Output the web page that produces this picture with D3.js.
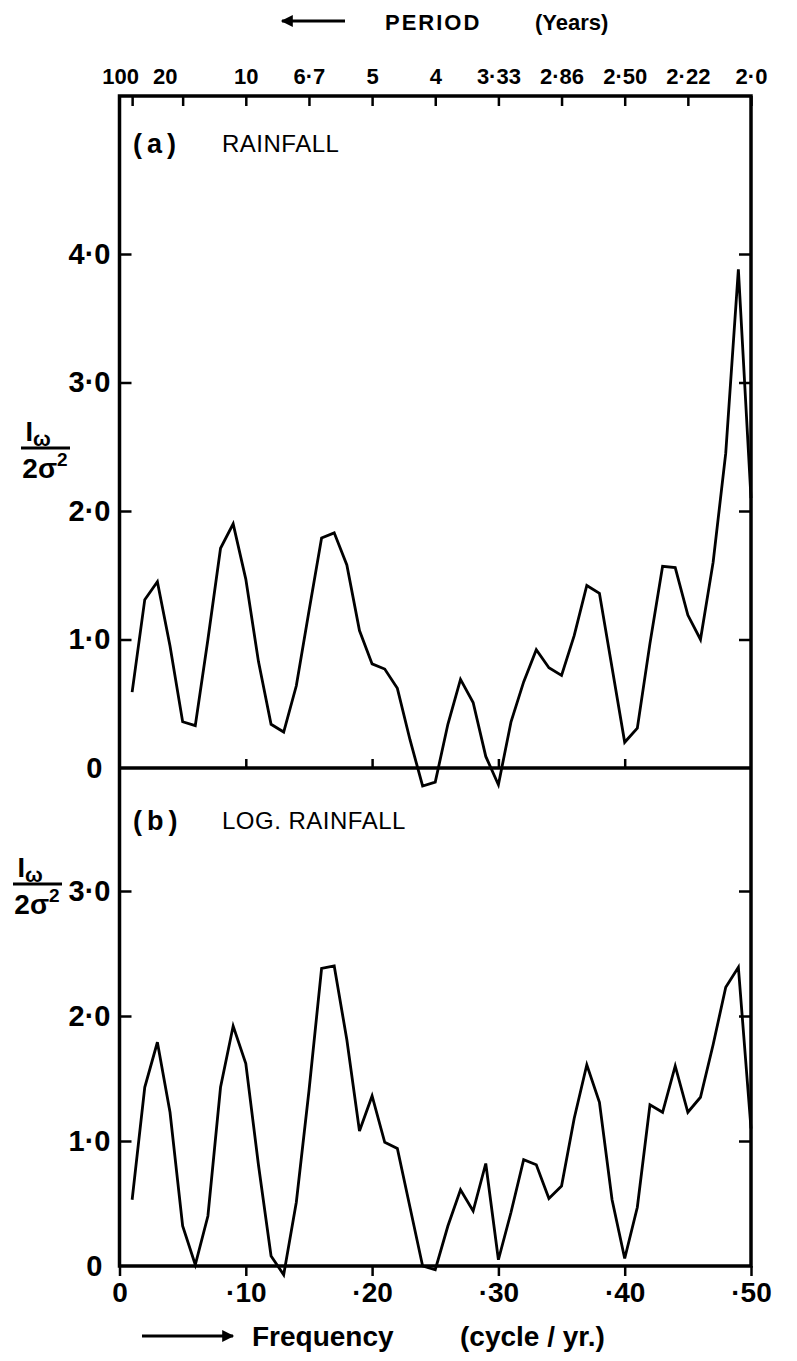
<!DOCTYPE html>
<html>
<head>
<meta charset="utf-8">
<script src="https://cdn.jsdelivr.net/npm/d3@7"></script>
<style>
  body { margin: 0; background: #fff; }
  svg { display: block; }
  text { font-family: "Liberation Sans", Arial, sans-serif; fill: #000; }
</style>
</head>
<body>
<svg id="chart"></svg>
<script>
const width = 797, height = 1361;

// Fourier frequencies of a 100-year series (cycle / yr)
const freq = d3.range(1, 51).map(k => k / 100);

// (a) rainfall, I_w / 2 sigma^2
const rainfall = [
  0.59, 1.31, 1.45, 0.95, 0.36, 0.33, 1.00, 1.71, 1.90, 1.47,
  0.83, 0.34, 0.28, 0.64, 1.22, 1.79, 1.83, 1.58, 1.07, 0.81,
  0.77, 0.62, 0.22, -0.14, -0.11, 0.34, 0.69, 0.51, 0.09, -0.13,
  0.36, 0.67, 0.92, 0.78, 0.72, 1.03, 1.42, 1.36, 0.78, 0.20,
  0.31, 0.97, 1.57, 1.56, 1.19, 1.00, 1.60, 2.45, 3.88, 2.10
];

// (b) log rainfall
const logRainfall = [
  0.53, 1.43, 1.79, 1.23, 0.32, 0.01, 0.40, 1.43, 1.92, 1.62,
  0.81, 0.08, -0.07, 0.51, 1.40, 2.38, 2.40, 1.81, 1.08, 1.36,
  0.99, 0.94, 0.47, 0.00, -0.03, 0.32, 0.61, 0.44, 0.82, 0.05,
  0.43, 0.85, 0.81, 0.54, 0.64, 1.18, 1.61, 1.31, 0.53, 0.06,
  0.47, 1.29, 1.23, 1.60, 1.23, 1.35, 1.77, 2.23, 2.39, 1.10
];

const freqTicks = [0, 0.1, 0.2, 0.3, 0.4, 0.5];
const freqLabels = ["0", "·10", "·20", "·30", "·40", "·50"];
const periodTicks = [0.01, 0.05, 0.10, 0.15, 0.20, 0.25, 0.30, 0.35, 0.40, 0.45, 0.50];
const periodLabels = ["100", "20", "10", "6·7", "5", "4", "3·33", "2·86", "2·50", "2·22", "2·0"];
const rainTicks = [0, 1, 2, 3, 4];
const rainLabels = ["0", "1·0", "2·0", "3·0", "4·0"];
const logTicks = [0, 1, 2, 3];
const logLabels = ["0", "1·0", "2·0", "3·0"];

const xLeft = 119.5, xRight = 751;
const yTop = 96, yMid = 768, yBottom = 1266;

const svg = d3.select("#chart")
    .attr("width", width)
    .attr("height", height);

svg.append("rect").attr("width", width).attr("height", height).attr("fill", "#fff");

const x = d3.scaleLinear().domain([0, 0.5]).range([xLeft, xRight]);
const yA = d3.scaleLinear().domain([0, 4]).range([yMid, 254]);
const yB = d3.scaleLinear().domain([0, 3]).range([yBottom, 891]);

// frame
svg.append("rect")
    .attr("x", xLeft).attr("y", yTop)
    .attr("width", xRight - xLeft).attr("height", yBottom - yTop)
    .attr("fill", "none").attr("stroke", "#000").attr("stroke-width", 3.5);
svg.append("line")
    .attr("x1", xLeft).attr("x2", xRight)
    .attr("y1", yMid).attr("y2", yMid)
    .attr("stroke", "#000").attr("stroke-width", 3.5);

function styleAxis(g, size) {
    g.select(".domain").remove();
    g.selectAll(".tick line").attr("stroke", "#000").attr("stroke-width", 2.5);
    g.selectAll(".tick text").attr("font-size", size).attr("font-weight", "bold");
}

// period axis on top, ticks pointing in
const topAxis = svg.append("g")
    .attr("transform", `translate(0,${yTop})`)
    .call(d3.axisTop(x).tickValues(periodTicks)
        .tickFormat((d, i) => periodLabels[i])
        .tickSize(-10).tickSizeOuter(0).tickPadding(12))
    .call(g => styleAxis(g, 22));
topAxis.selectAll(".tick text").attr("dx", (d, i) => i === 0 ? -12 : i === 1 ? -18 : 0);

// small ticks on the divider (panel a zero line)
svg.append("g")
    .attr("transform", `translate(0,${yMid})`)
    .call(d3.axisTop(x).tickValues(freqTicks.slice(1, 5)).tickSize(9).tickSizeOuter(0).tickFormat(""))
    .call(g => styleAxis(g, 0));

// frequency axis at bottom
svg.append("g")
    .attr("transform", `translate(0,${yBottom})`)
    .call(d3.axisBottom(x).tickValues(freqTicks)
        .tickFormat((d, i) => freqLabels[i])
        .tickSize(10).tickSizeOuter(0).tickPadding(6))
    .call(g => styleAxis(g, 28));

// y axes, left labels, inward ticks on both sides
function yAxes(scale, ticks, labels) {
    const gl = svg.append("g")
        .attr("transform", `translate(${xLeft},0)`)
        .call(d3.axisLeft(scale).tickValues(ticks)
            .tickFormat((d, i) => labels[i])
            .tickSize(-12).tickSizeOuter(0).tickPadding(9))
        .call(g => styleAxis(g, 29));
    gl.selectAll(".tick text").attr("dx", d => d === 0 ? -8 : 0);
    gl.selectAll(".tick").filter(d => d === 0).select("line").remove();
    svg.append("g")
        .attr("transform", `translate(${xRight},0)`)
        .call(d3.axisRight(scale).tickValues(ticks.slice(1))
            .tickSize(-12).tickSizeOuter(0).tickFormat(""))
        .call(g => styleAxis(g, 0));
}
yAxes(yA, rainTicks, rainLabels);
yAxes(yB, logTicks, logLabels);

// curves
const lineA = d3.line().x((d, i) => x(freq[i])).y(d => yA(d));
const lineB = d3.line().x((d, i) => x(freq[i])).y(d => yB(d));
svg.append("path").datum(rainfall)
    .attr("d", lineA).attr("fill", "none")
    .attr("stroke", "#000").attr("stroke-width", 2.8).attr("stroke-linejoin", "miter");
svg.append("path").datum(logRainfall)
    .attr("d", lineB).attr("fill", "none")
    .attr("stroke", "#000").attr("stroke-width", 2.8).attr("stroke-linejoin", "miter");

// y label: I_w / 2 sigma^2
function fraction(cx, cy) {
    const g = svg.append("g").attr("transform", `translate(${cx},${cy})`);
    const num = g.append("text").attr("x", -8).attr("y", -7)
        .attr("text-anchor", "middle").attr("font-size", 27)
        .attr("font-family", "Liberation Serif, serif").attr("font-weight", "bold");
    num.append("tspan").text("I");
    num.append("tspan").attr("font-size", 21).attr("dy", 5)
        .attr("font-family", "Liberation Sans, sans-serif").text("ω");
    g.append("line").attr("x1", -25).attr("x2", 24).attr("y1", 0).attr("y2", 0)
        .attr("stroke", "#000").attr("stroke-width", 3);
    const den = g.append("text").attr("x", -1).attr("y", 30)
        .attr("text-anchor", "middle").attr("font-size", 28).attr("font-weight", "bold");
    den.append("tspan").text("2σ");
    den.append("tspan").attr("font-size", 19).attr("dy", -12).text("2");
}
fraction(46, 448);
fraction(38, 884);

// panel labels
function panelLabel(y, tag, name) {
    svg.append("text").attr("x", 133).attr("y", y)
        .attr("font-size", 27).attr("font-weight", "bold").attr("letter-spacing", 5).text(tag);
    svg.append("text").attr("x", 222).attr("y", y - 1)
        .attr("font-size", 24).attr("letter-spacing", 0.5).text(name);
}
panelLabel(153, "(a)", "RAINFALL");
panelLabel(830, "(b)", "LOG. RAINFALL");

// arrows + axis titles
svg.append("defs").append("marker")
    .attr("id", "head").attr("viewBox", "0 0 10 10")
    .attr("refX", 9).attr("refY", 5)
    .attr("markerWidth", 5).attr("markerHeight", 4).attr("orient", "auto")
    .append("path").attr("d", "M0,0L10,5L0,10z").attr("fill", "#000");

svg.append("line").attr("x1", 345).attr("x2", 282).attr("y1", 21).attr("y2", 21)
    .attr("stroke", "#000").attr("stroke-width", 3).attr("marker-end", "url(#head)");
svg.append("text").attr("x", 385).attr("y", 30).attr("font-size", 22)
    .attr("font-weight", "bold").attr("letter-spacing", 2).text("PERIOD");
svg.append("text").attr("x", 535).attr("y", 30).attr("font-size", 22)
    .attr("font-weight", "bold").text("(Years)");

svg.append("line").attr("x1", 142).attr("x2", 233).attr("y1", 1336).attr("y2", 1336)
    .attr("stroke", "#000").attr("stroke-width", 3).attr("marker-end", "url(#head)");
svg.append("text").attr("x", 252).attr("y", 1346).attr("font-size", 28)
    .attr("font-weight", "bold").text("Frequency");
svg.append("text").attr("x", 460).attr("y", 1346).attr("font-size", 28)
    .attr("font-weight", "bold").text("(cycle / yr.)");
</script>
</body>
</html>
